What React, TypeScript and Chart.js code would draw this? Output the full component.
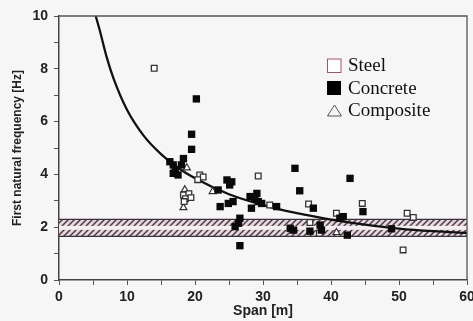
import { useEffect, useRef } from "react";
import { Chart, registerables } from "chart.js";

Chart.register(...registerables);

// Footbridge first natural frequency versus span
const steelSpan = [14.0, 20.7, 21.2, 20.4, 29.3, 31.0, 36.7, 36.9, 38.3, 40.8, 44.6, 51.2, 52.1, 50.6, 18.3, 19.1, 18.6, 19.4, 18.4];
const steelFreq = [8.02, 3.98, 3.9, 3.8, 3.94, 2.84, 2.88, 2.18, 1.77, 2.53, 2.9, 2.53, 2.37, 1.14, 3.22, 3.27, 3.08, 3.12, 2.97];

const concreteSpan = [20.2, 19.5, 19.5, 18.3, 16.3, 16.8, 18.0, 17.1, 16.8, 17.5, 24.7, 25.4, 25.1, 23.4, 23.7, 24.9, 25.6, 28.1, 28.8, 29.3, 28.3, 29.8, 29.1, 26.6, 26.4, 25.9, 26.6, 34.7, 35.4, 37.4, 32.0, 34.0, 34.5, 36.9, 38.4, 38.6, 41.3, 42.8, 42.4, 44.7, 41.8, 48.9];
const concreteFreq = [6.86, 5.52, 4.95, 4.6, 4.48, 4.36, 4.36, 4.17, 4.04, 3.98, 3.79, 3.72, 3.6, 3.41, 2.78, 2.9, 2.97, 3.16, 3.09, 2.97, 2.72, 2.9, 3.28, 2.34, 2.15, 2.02, 1.3, 4.23, 3.38, 2.72, 2.78, 1.96, 1.89, 1.85, 2.08, 1.89, 2.34, 3.85, 1.7, 2.59, 2.4, 1.94];

const compositeSpan = [18.8, 18.3, 22.6, 40.8, 18.5];
const compositeFreq = [4.25, 2.74, 3.35, 1.8, 3.42];

// Trend curve through the data
const curveSpan = [5.4, 6, 7, 8, 10, 12.5, 15, 17.5, 20, 25, 30, 35, 40, 45, 50, 55, 60];
const curveFreq = [10, 9.45, 8.45, 7.65, 6.45, 5.45, 4.77, 4.25, 3.85, 3.25, 2.84, 2.53, 2.29, 2.1, 1.95, 1.85, 1.78];

// Critical frequency band (hatched) and its inner stripe
const bandOuter = [1.65, 2.3];
const bandInner = [1.9, 2.05];

const xLabelTicks = [0, 10, 20, 30, 40, 50, 60];
const yLabelTicks = [0, 2, 4, 6, 8, 10];

const legendLabels = ["Steel", "Concrete", "Composite"];

const toPoints = (xs: number[], ys: number[]) => xs.map((x, i) => ({ x, y: ys[i] }));

const AXIS_FONT = "'Liberation Sans', Arial, sans-serif";

function makeHatch(ctx: CanvasRenderingContext2D) {
  const c = document.createElement("canvas");
  c.width = 6;
  c.height = 6;
  const g = c.getContext("2d")!;
  g.fillStyle = "#e6d6de";
  g.fillRect(0, 0, 6, 6);
  g.strokeStyle = "#4a3d46";
  g.lineWidth = 1.5;
  g.beginPath();
  g.moveTo(0, 6);
  g.lineTo(6, 0);
  g.moveTo(-3, 3);
  g.lineTo(3, -3);
  g.moveTo(3, 9);
  g.lineTo(9, 3);
  g.stroke();
  return ctx.createPattern(c, "repeat");
}

const backgroundPlugin = {
  id: "bg",
  beforeDraw(chart: any) {
    const { ctx, width, height } = chart;
    ctx.save();
    ctx.fillStyle = "#f6f6f6";
    ctx.fillRect(0, 0, width, height);
    ctx.restore();
  },
};

const bandPlugin = {
  id: "band",
  beforeDatasetsDraw(chart: any) {
    const { ctx, chartArea, scales } = chart;
    const y = scales.y;
    const top = y.getPixelForValue(bandOuter[1]);
    const bot = y.getPixelForValue(bandOuter[0]);
    const iTop = y.getPixelForValue(bandInner[1]);
    const iBot = y.getPixelForValue(bandInner[0]);
    const w = chartArea.right - chartArea.left;
    ctx.save();
    ctx.fillStyle = makeHatch(ctx);
    ctx.fillRect(chartArea.left, top, w, bot - top);
    ctx.fillStyle = "#f4eef1";
    ctx.fillRect(chartArea.left, iTop, w, iBot - iTop);
    ctx.strokeStyle = "#3a3238";
    ctx.lineWidth = 1.2;
    ctx.beginPath();
    ctx.moveTo(chartArea.left, top);
    ctx.lineTo(chartArea.right, top);
    ctx.moveTo(chartArea.left, bot);
    ctx.lineTo(chartArea.right, bot);
    ctx.stroke();
    ctx.restore();
  },
};

const framePlugin = {
  id: "frame",
  afterDatasetsDraw(chart: any) {
    const { ctx, chartArea } = chart;
    ctx.save();
    ctx.strokeStyle = "#555";
    ctx.lineWidth = 1.3;
    ctx.beginPath();
    ctx.moveTo(chartArea.left, chartArea.top);
    ctx.lineTo(chartArea.right, chartArea.top);
    ctx.lineTo(chartArea.right, chartArea.bottom);
    ctx.stroke();
    ctx.restore();
  },
};

const legendPlugin = {
  id: "customLegend",
  afterDraw(chart: any) {
    const { ctx } = chart;
    const sx = 327;
    const tx = 348;
    const rowY = [65.5, 88, 110.5];
    ctx.save();
    // Steel: open square
    ctx.strokeStyle = "#a0585f";
    ctx.lineWidth = 1;
    ctx.fillStyle = "#ffffff";
    ctx.fillRect(sx, rowY[0] - 7, 14, 14);
    ctx.strokeRect(sx + 0.5, rowY[0] - 6.5, 13.5, 13.5);
    // Concrete: filled square
    ctx.fillStyle = "#000000";
    ctx.fillRect(sx, rowY[1] - 7, 14, 14);
    // Composite: open triangle
    ctx.strokeStyle = "#555";
    ctx.lineWidth = 1;
    ctx.beginPath();
    ctx.moveTo(sx + 0.5, rowY[2] + 5.5);
    ctx.lineTo(sx + 14.5, rowY[2] + 5.5);
    ctx.lineTo(sx + 7.5, rowY[2] - 5.5);
    ctx.closePath();
    ctx.stroke();
    ctx.fillStyle = "#111";
    ctx.font = "19px 'Liberation Serif', 'Times New Roman', serif";
    ctx.textBaseline = "middle";
    legendLabels.forEach((t, i) => ctx.fillText(t, tx, rowY[i] + 1));
    ctx.restore();
  },
};

export default function App() {
  const ref = useRef<HTMLCanvasElement | null>(null);

  useEffect(() => {
    if (!ref.current) return;
    const chart = new Chart(ref.current, {
      type: "scatter",
      data: {
        datasets: [
          {
            label: "Trend",
            data: toPoints(curveSpan, curveFreq),
            showLine: true,
            pointRadius: 0,
            borderColor: "#111",
            borderWidth: 2.3,
            cubicInterpolationMode: "monotone",
            order: 5,
          } as any,
          {
            label: "Steel",
            data: toPoints(steelSpan, steelFreq),
            pointStyle: "rect",
            pointRadius: 4,
            backgroundColor: "#ffffff",
            borderColor: "#333",
            borderWidth: 1.3,
            order: 2,
          },
          {
            label: "Composite",
            data: toPoints(compositeSpan, compositeFreq),
            pointStyle: "triangle",
            pointRadius: 4,
            backgroundColor: "#ffffff",
            borderColor: "#333",
            borderWidth: 1.2,
            order: 2,
          },
          {
            label: "Concrete",
            data: toPoints(concreteSpan, concreteFreq),
            pointStyle: "rect",
            pointRadius: 5.2,
            backgroundColor: "#0a0a0a",
            borderColor: "#0a0a0a",
            borderWidth: 0,
            order: 1,
          },
        ],
      },
      options: {
        animation: false,
        responsive: false,
        layout: { padding: { top: 16, right: 6, left: 0, bottom: 0 } },
        plugins: {
          legend: { display: false },
          tooltip: { enabled: false },
        },
        scales: {
          x: {
            type: "linear",
            min: 0,
            max: 60,
            afterFit(scale: any) {
              scale.height = 41;
              scale.paddingLeft = 0;
              scale.paddingRight = 0;
            },
            ticks: {
              stepSize: 5,
              autoSkip: false,
              maxRotation: 0,
              padding: 4,
              color: "#222",
              font: { family: AXIS_FONT, size: 14, weight: "bold" },
              callback: (v: any) => (xLabelTicks.includes(Number(v)) ? String(v) : ""),
            },
            grid: { drawOnChartArea: false, drawTicks: true, tickLength: 5, color: "#555" },
            border: { display: true, color: "#444", width: 1.5 },
            title: {
              display: true,
              text: "Span [m]",
              color: "#222",
              font: { family: AXIS_FONT, size: 14, weight: "bold" },
              padding: { top: 0, bottom: 1 },
            },
          },
          y: {
            type: "linear",
            min: 0,
            max: 10,
            afterFit(scale: any) {
              scale.width = 59;
              scale.paddingTop = 0;
              scale.paddingBottom = 0;
            },
            ticks: {
              stepSize: 1,
              autoSkip: false,
              padding: 6,
              color: "#222",
              font: { family: AXIS_FONT, size: 14, weight: "bold" },
              callback: (v: any) => (yLabelTicks.includes(Number(v)) ? String(v) : ""),
            },
            grid: { drawOnChartArea: false, drawTicks: true, tickLength: 5, color: "#555" },
            border: { display: true, color: "#444", width: 1.5 },
            title: {
              display: true,
              text: "First natural frequency [Hz]",
              color: "#222",
              font: { family: AXIS_FONT, size: 12, weight: "bold" },
              padding: { top: 10, bottom: 0 },
            },
          },
        },
      },
      plugins: [backgroundPlugin, bandPlugin, framePlugin, legendPlugin],
    });
    return () => chart.destroy();
  }, []);

  return (
    <div style={{ position: "fixed", left: 0, top: 0, width: 473, height: 321 }}>
      <canvas ref={ref} width={473} height={321} />
    </div>
  );
}
